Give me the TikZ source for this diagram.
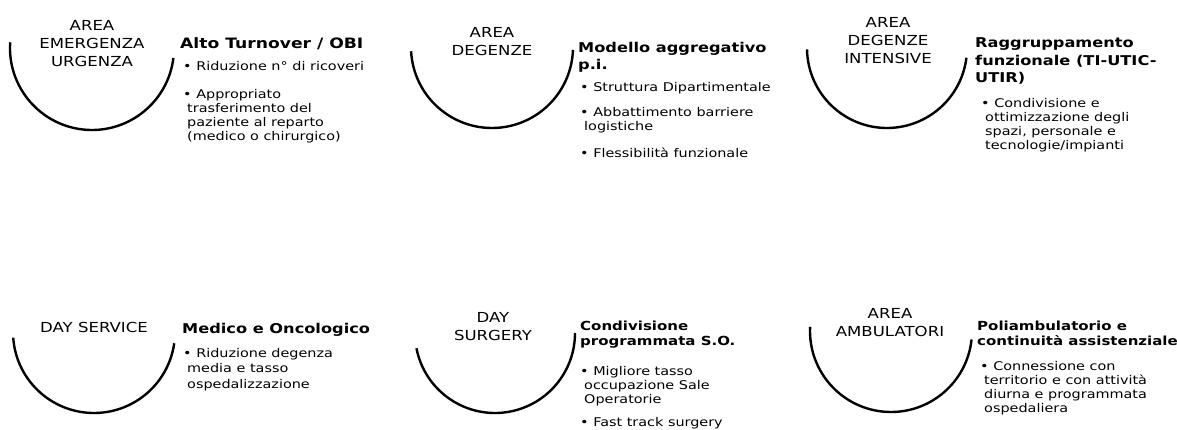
\documentclass[tikz,border=0pt]{standalone}
\usepackage{fontspec}
\setmainfont{DejaVu Sans}[FakeStretch=1.2]
\newcommand{\pto}{\textbullet\ }
\newcommand{\rientro}{\hspace*{4pt}}
\tikzset{
  arco/.style={line width=2.4pt},
  area/.style={align=center, inner sep=0pt, anchor=base, font=\fontsize{13.8}{18}\selectfont},
  titolo/.style={align=left, inner sep=0pt, anchor=base west, font=\fontsize{13.5}{17.5}\selectfont\bfseries},
  piccolo/.style={font=\fontsize{12.5}{15}\selectfont\bfseries},
  voci/.style={align=left, inner sep=0pt, anchor=base west, font=\fontsize{12}{14}\selectfont},
}

\begin{document}
\begin{tikzpicture}[x=1pt, y=1pt]
   \useasboundingbox (0,0) rectangle (1177,-430);
   % riga superiore
   \coordinate (C1) at (92,-48);
   \coordinate (C2) at (492,-47);
   \coordinate (C3) at (887,-48);
   \draw [arco] (C1) ++(176:82) arc [start angle=176, end angle=353, radius=82];
   \draw [arco] (C2) ++(183:81) arc [start angle=183, end angle=358, radius=81];
   \draw [arco] (C3) ++(181:80) arc [start angle=181, end angle=353, radius=80];
   \node [area] (L1) at (92,-67) {AREA\\EMERGENZA\\URGENZA};
   \node [area] (L2) at (492,-56) {AREA\\DEGENZE};
   \node [area] (L3) at (888,-64) {AREA\\DEGENZE\\INTENSIVE};
   \node [titolo, font=\fontsize{14.3}{17.5}\selectfont\bfseries] (T1) at (180,-49) {Alto Turnover / OBI};
   \node [titolo] (T2) at (578,-70) {Modello aggregativo\\p.i.};
   \node [titolo] (T3) at (975,-83) {Raggruppamento\\funzionale (TI-UTIC-\\UTIR)};
   \node [voci] (V1) at (183,-141) {\pto Riduzione n° di ricoveri\\[14pt]
      \pto Appropriato\\ \rientro trasferimento del\\ \rientro paziente al reparto\\
      \rientro (medico o chirurgico)};
   \node [voci] (V2) at (580,-158) {\pto Struttura Dipartimentale\\[11pt]
      \pto Abbattimento barriere\\ \rientro logistiche\\[13pt]
      \pto Flessibilità funzionale};
   \node [voci] (V3) at (981,-150) {\pto Condivisione e\\ \rientro ottimizzazione degli\\
      \rientro spazi, personale e\\ \rientro tecnologie/impianti};
   % riga inferiore
   \coordinate (C4) at (94,-332);
   \coordinate (C5) at (495,-333);
   \coordinate (C6) at (891,-331);
   \draw [arco] (C4) ++(184:81) arc [start angle=184, end angle=352, radius=81];
   \draw [arco] (C5) ++(191:80) arc [start angle=191, end angle=360, radius=80];
   \draw [arco] (C6) ++(177:81) arc [start angle=177, end angle=354, radius=81];
   \node [area] (L4) at (94,-332) {DAY SERVICE};
   \node [area] (L5) at (493,-340) {DAY\\SURGERY};
   \node [area] (L6) at (890,-336) {AREA\\AMBULATORI};
   \node [titolo] (T4) at (182,-333) {Medico e Oncologico};
   \node [titolo, piccolo] (T5) at (580,-345) {Condivisione\\programmata S.O.};
   \node [titolo, piccolo] (T6) at (977,-345) {Poliambulatorio e\\continuità assistenziale};
   \node [voci, font=\fontsize{12}{15.5}\selectfont] (V4) at (183,-388) {\pto Riduzione degenza\\
      \rientro media e tasso\\ \rientro ospedalizzazione};
   \node [voci] (V5) at (580,-426) {\pto Migliore tasso\\ \rientro occupazione Sale\\
      \rientro Operatorie\\[9pt] \pto Fast track surgery};
   \node [voci] (V6) at (980,-412) {\pto Connessione con\\ \rientro territorio e con attività\\
      \rientro diurna e programmata\\ \rientro ospedaliera};
\end{tikzpicture}
\end{document}
